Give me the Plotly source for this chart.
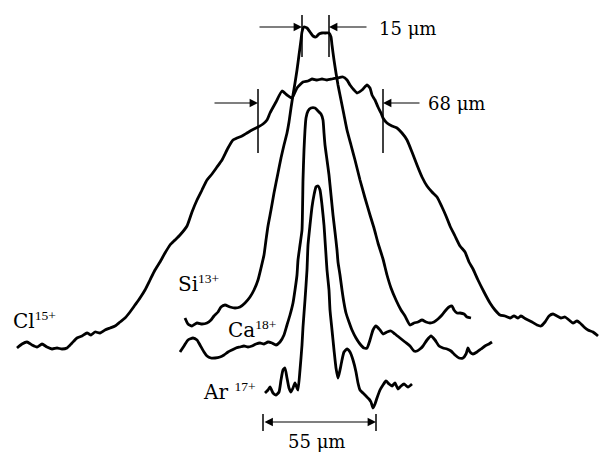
import plotly.graph_objects as go

# ---- traced profiles (horizontal position, vertical position on the page) ----
cl_x = [17,22,27,32,37,42,47,52,57,62,67,72,77,82,87,91,95,100,105,110,115,120,125,130,135,140,145,150,155,160,165,170,175,180,187,192,197,202,207,212,217,222,228,233,237,242,247,252,258,263,267,270,276,282,287,292,297,303,308,312,317,322,327,332,337,343,347,350,354,357,362,367,370,372,375,378,381,383,387,392,397,402,407,412,417,422,427,432,437,442,446,450,455,460,465,469,473,478,484,490,495,500,505,510,514,518,521,526,532,537,541,545,549,553,557,561,565,569,573,577,580,584,588,593,598]
cl_y = [348,344,342,345,347,344,347,349,348,349,348,343,338,336,333,335,332,333,330,328,326,322,318,312,305,298,290,280,270,262,253,245,240,235,226,212,200,190,180,174,167,160,148,140,138,136,133,130,127,124,120,113,102,91,95,98,88,82,81,79,80,79,80,79,78,77,80,85,90,93,90,85,88,95,100,107,113,118,123,126,128,133,140,152,165,177,186,192,197,207,216,226,236,246,252,262,269,280,292,303,310,315,316,318,316,318,316,319,322,325,326,322,316,314,316,318,317,320,323,321,323,327,330,332,336]

si_x = [185,188,192,197,202,207,211,214,218,221,225,230,235,240,245,250,254,258,261,264,266,268,271,274,278,281,284,287,289,291,293,295,297,299,301,302,304,307,310,313,316,319,322,326,329,331,332,334,336,338,341,344,347,351,355,360,365,370,374,378,383,387,391,396,401,405,410,414,418,422,426,430,434,438,442,446,449,452,454,457,460,464,467,471]
si_y = [318,324,326,323,324,323,320,316,312,307,305,307,308,307,303,297,290,280,268,255,240,226,210,193,173,158,145,133,122,108,95,83,70,55,40,32,27,28,32,36,37,34,33,33,33,37,45,60,73,85,100,115,130,145,160,180,198,215,228,243,259,275,288,300,310,316,325,323,322,320,322,323,322,319,315,310,307,306,310,313,313,314,317,318]

ca_x = [180,184,188,193,197,200,204,207,211,215,220,224,228,232,236,240,244,248,252,256,260,264,268,272,276,280,284,287,290,293,295,297,298,300,302,303,304,305,306,308,311,315,318,321,323,324,325,327,329,331,333,335,337,338,340,342,344,346,349,352,356,360,364,367,370,373,376,380,383,387,391,395,400,405,410,414,417,420,423,427,431,435,439,443,447,451,455,459,463,466,468,470,473,477,481,485,489,492]
ca_y = [352,346,340,338,340,345,352,356,358,358,357,355,352,350,348,347,346,347,346,344,343,344,342,343,345,342,335,325,315,303,290,275,260,245,230,180,150,130,118,111,108,108,111,114,120,133,145,160,175,195,215,232,250,262,275,290,303,313,322,330,338,344,348,348,340,330,326,330,334,332,331,334,338,342,346,351,351,349,346,340,336,340,346,348,349,351,355,358,358,354,348,352,354,352,349,346,344,342]

ar_x = [265,268,270,273,276,279,281,283,285,287,289,291,293,295,297,298,300,302,303,305,307,308,310,312,314,316,318,320,322,324,325,326,327,329,330,332,334,336,338,340,342,344,347,350,353,356,358,360,363,366,369,371,373,375,377,380,383,386,389,392,395,398,401,404,408,412]
ar_y = [393,390,387,393,395,392,380,370,368,378,388,392,388,383,388,390,370,345,327,300,270,245,225,207,195,187,186,190,205,225,240,255,270,290,310,330,350,368,378,370,360,352,349,352,360,372,383,390,393,396,399,402,408,404,398,390,385,381,384,386,383,389,386,384,387,384]

# ---- width markers ----
w15_ticks = [302, 329]
w68_ticks = [258, 383]
w55_ticks = [263, 376]
w15_label = "15 \u03bcm"
w68_label = "68 \u03bcm"
w55_label = "55 \u03bcm"

ion_names = ["Cl", "Si", "Ca", "Ar "]
ion_charges = ["15+", "13+", "18+", "17+"]
ion_label_pos = [(11, 320), (176, 283), (226, 329), (201, 391)]

FONT = "DejaVu Serif"
SUPFONT = "Liberation Serif"
fig = go.Figure()
for xs, ys, name in [(cl_x, cl_y, "Cl"), (si_x, si_y, "Si"), (ca_x, ca_y, "Ca"), (ar_x, ar_y, "Ar")]:
    fig.add_trace(go.Scatter(x=xs, y=ys, mode="lines", name=name,
                             line=dict(color="black", width=2.8, shape="spline", smoothing=0.5),
                             hoverinfo="skip", showlegend=False))

shapes = []
for xt in w15_ticks:
    shapes.append(dict(type="line", xref="x", yref="y", x0=xt, x1=xt, y0=15, y1=57,
                       line=dict(color="black", width=1.5)))
for xt in w68_ticks:
    shapes.append(dict(type="line", xref="x", yref="y", x0=xt, x1=xt, y0=89, y1=153,
                       line=dict(color="black", width=1.5)))
for xt in w55_ticks:
    shapes.append(dict(type="line", xref="x", yref="y", x0=xt, x1=xt, y0=414, y1=431,
                       line=dict(color="black", width=1.5)))

annotations = []
def arrow(xh, yh, xt, yt, side="end"):
    annotations.append(dict(x=xh, y=yh, ax=xt, ay=yt, xref="x", yref="y", axref="x", ayref="y",
                            text="", showarrow=True, arrowhead=2, arrowsize=1.4, arrowwidth=1.2,
                            arrowcolor="black", standoff=0, startstandoff=0, arrowside=side,
                            startarrowhead=2, startarrowsize=1.4))

arrow(w15_ticks[0], 27, 258, 27)
arrow(w15_ticks[1], 27, 368, 27)
arrow(w68_ticks[0], 103, 213, 103)
arrow(w68_ticks[1], 103, 421, 103)
arrow(w55_ticks[1], 422, w55_ticks[0], 422, side="end+start")

txt = dict(family=FONT, size=18, color="black")
annotations.append(dict(x=377, y=28, xref="x", yref="y", text=w15_label, showarrow=False,
                        xanchor="left", yanchor="middle", font=txt))
annotations.append(dict(x=426, y=103, xref="x", yref="y", text=w68_label, showarrow=False,
                        xanchor="left", yanchor="middle", font=txt))
annotations.append(dict(x=316, y=441, xref="x", yref="y", text=w55_label, showarrow=False,
                        xanchor="center", yanchor="middle", font=txt))
lab_font = dict(family=FONT, size=20, color="black")
for name, ch, (lx, ly) in zip(ion_names, ion_charges, ion_label_pos):
    lab = f"{name}<sup><span style='font-family:{SUPFONT};font-size:13.5px'>{ch}</span></sup>"
    annotations.append(dict(x=lx, y=ly, xref="x", yref="y", text=lab, showarrow=False,
                            xanchor="left", yanchor="middle", font=lab_font))

fig.update_layout(width=599, height=452, margin=dict(l=0, r=0, t=0, b=0),
                  paper_bgcolor="white", plot_bgcolor="white",
                  xaxis=dict(range=[0, 599], visible=False, fixedrange=True),
                  yaxis=dict(range=[452, 0], visible=False, fixedrange=True),
                  shapes=shapes, annotations=annotations, showlegend=False)

fig.write_html("out.html", config={"displayModeBar": False},
               post_script="document.body.style.margin='0';document.body.style.overflow='hidden';")
